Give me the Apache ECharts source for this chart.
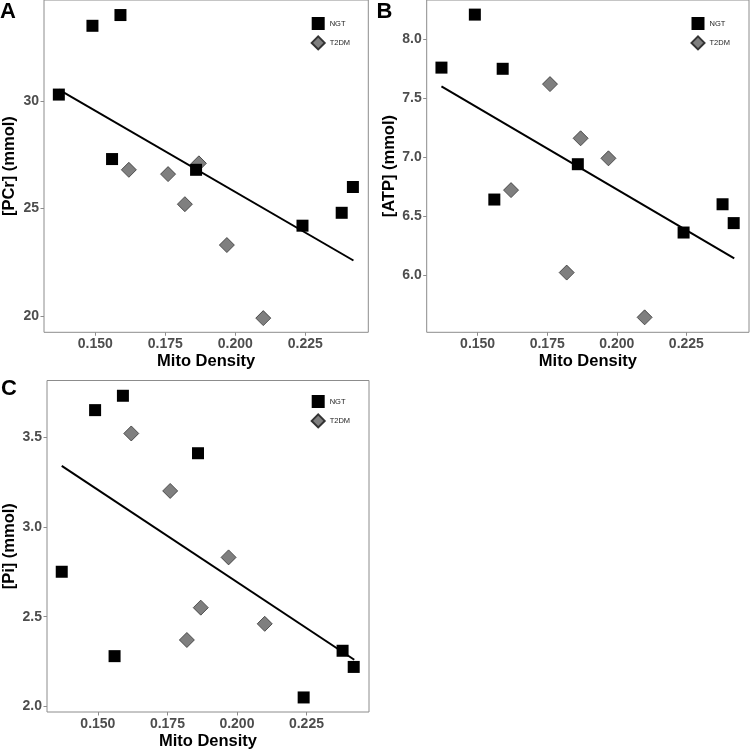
<!DOCTYPE html>
<html>
<head>
<meta charset="utf-8">
<script src="https://cdn.jsdelivr.net/npm/echarts@6/dist/echarts.min.js"></script>
<style>html,body{margin:0;padding:0;background:#fff;}#c{width:750px;height:751px;}</style>
</head>
<body>
<div id="c"></div>
<script>
// ---- data ----
const ngtX   = [0.137, 0.149, 0.159, 0.156, 0.186, 0.224, 0.238, 0.242];
const ngtPCr = [30.3, 33.5, 34.0, 27.3, 26.8, 24.2, 24.8, 26.0];
const ngtATP = [7.76, 8.21, 7.75, 6.64, 6.94, 6.36, 6.60, 6.44];
const ngtPi  = [2.75, 3.65, 3.73, 2.28, 3.41, 2.05, 2.31, 2.22];

const t2dmX   = [0.162, 0.176, 0.187, 0.182, 0.197, 0.210];
const t2dmPCr = [26.8, 26.6, 27.1, 25.2, 23.3, 19.9];
const t2dmATP = [6.72, 7.62, 7.16, 6.02, 6.99, 5.64];
const t2dmPi  = [3.52, 3.20, 2.55, 2.37, 2.83, 2.46];

const fitX   = [0.137, 0.2422];
const fitPCr = [30.53, 22.58];
const fitATP = [7.60, 6.14];
const fitPi  = [3.34, 2.26];

const xTicks  = [0.150, 0.175, 0.200, 0.225];
const yTicksA = [20, 25, 30];
const yTicksB = [6.0, 6.5, 7.0, 7.5, 8.0];
const yTicksC = [2.0, 2.5, 3.0, 3.5];

const panelLabels = ['A', 'B', 'C'];
const yTitles = ['[PCr] (mmol)', '[ATP] (mmol)', '[Pi] (mmol)'];
const legendNames = ['NGT', 'T2DM'];

// ---- layout ----
const W = 750, H = 751;
const xRange = [0.1317, 0.2475];
const panels = [
  {grid:{left:43, right:W-368.3, top:0, bottom:H-332.3}, yRange:[19.24, 34.70], yTicks:yTicksA, yDigits:0, ngt:ngtPCr, t2dm:t2dmPCr, fit:fitPCr, nameGap:26, legend:{left:305.7, top:12}, label:{left:0, top:1}},
  {grid:{left:426.7, right:1, top:0, bottom:H-332.3}, yRange:[5.513, 8.334], yTicks:yTicksB, yDigits:1, ngt:ngtATP, t2dm:t2dmATP, fit:fitATP, nameGap:29, legend:{left:685.5, top:12}, label:{left:376.5, top:1}},
  {grid:{left:45.7, right:W-369, top:380.5, bottom:H-712.3}, yRange:[1.969, 3.815], yTicks:yTicksC, yDigits:1, ngt:ngtPi, t2dm:t2dmPi, fit:fitPi, nameGap:29, legend:{left:305.7, top:390}, label:{left:1, top:378}}
];

const zip = (a, b) => a.map((v, i) => [v, b[i]]);
const FONT = 'Liberation Sans, Arial, sans-serif';
const borderGray = '#8c8c8c';
const tickStyle = {fontSize:14, fontWeight:'bold', color:'#4d4d4d', fontFamily:FONT, margin:5};
const titleStyle = {fontSize:16.5, fontWeight:'bold', color:'#000', fontFamily:FONT};

const option = {
  animation:false,
  backgroundColor:'#fff',
  grid:[], xAxis:[], yAxis:[], series:[], legend:[], graphic:[]
};

panels.forEach((p, i) => {
  option.grid.push(Object.assign({show:true, borderColor:borderGray, borderWidth:1, backgroundColor:'#fff'}, p.grid));
  option.xAxis.push({
    type:'value', gridIndex:i, min:xRange[0], max:xRange[1],
    name:'Mito Density', nameLocation:'middle', nameGap:21, nameTextStyle:titleStyle,
    axisLine:{show:false}, splitLine:{show:false},
    axisTick:{show:true, length:3.5, lineStyle:{color:borderGray}, customValues:xTicks},
    axisLabel:Object.assign({customValues:xTicks, formatter:v => Number(v).toFixed(3)}, tickStyle)
  });
  option.yAxis.push({
    type:'value', gridIndex:i, min:p.yRange[0], max:p.yRange[1],
    name:yTitles[i], nameLocation:'middle', nameRotate:90, nameGap:p.nameGap, nameTextStyle:titleStyle,
    axisLine:{show:false}, splitLine:{show:false},
    axisTick:{show:true, length:3.5, lineStyle:{color:borderGray}, customValues:p.yTicks},
    axisLabel:Object.assign({customValues:p.yTicks, formatter:v => Number(v).toFixed(p.yDigits)}, tickStyle)
  });
  option.series.push({
    type:'scatter', name:'T2DM', xAxisIndex:i, yAxisIndex:i, data:zip(t2dmX, p.t2dm),
    symbol:'diamond', symbolSize:15, z:2,
    itemStyle:{color:'#7f7f7f', borderColor:'#333', borderWidth:0.8, opacity:1}
  });
  option.series.push({
    type:'scatter', name:'NGT', xAxisIndex:i, yAxisIndex:i, data:zip(ngtX, p.ngt),
    symbol:'rect', symbolSize:12, z:3,
    itemStyle:{color:'#000', opacity:1}
  });
  option.series.push({
    type:'line', name:'fit', xAxisIndex:i, yAxisIndex:i, data:zip(fitX, p.fit),
    symbol:'none', z:4, silent:true,
    lineStyle:{color:'#000', width:2}
  });
  option.legend.push({
    left:p.legend.left, top:p.legend.top, orient:'vertical',
    itemWidth:13, itemHeight:13, itemGap:5.4, selectedMode:false,
    data:[{name:legendNames[0], icon:'rect'}, {name:legendNames[1], icon:'diamond'}],
    textStyle:{fontSize:7.5, color:'#222', fontFamily:FONT}
  });
  option.graphic.push({
    type:'text', left:p.label.left, top:p.label.top, z:100,
    style:{text:panelLabels[i], font:'bold 22px ' + FONT, fill:'#000'}
  });
});

const chart = echarts.init(document.getElementById('c'), null, {renderer:'canvas'});
chart.setOption(option);
</script>
</body>
</html>
